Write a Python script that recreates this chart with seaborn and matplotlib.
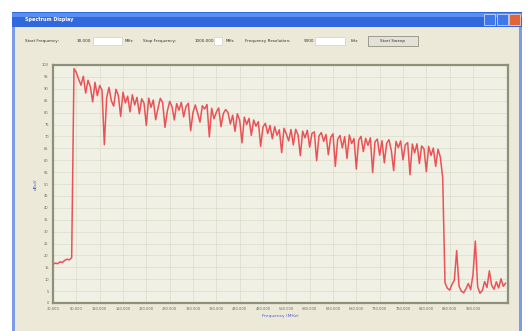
import numpy as np
import pandas as pd
import matplotlib
matplotlib.use("Agg")
import matplotlib.pyplot as plt
from matplotlib.patches import Rectangle
import seaborn as sns

# sweep settings shown in the toolbar
start_text = "30.000"
stop_text = "1000.000"
step_text = "5000"

# frequency points of the sweep (MHz)
freq_mhz = [
    30, 35, 40, 45, 50, 55, 60, 65, 70, 75, 80, 85, 90, 95, 100, 105, 110, 115, 120, 125,
    130, 135, 140, 145, 150, 155, 160, 165, 170, 175, 180, 185, 190, 195, 200, 205, 210, 215, 220, 225,
    230, 235, 240, 245, 250, 255, 260, 265, 270, 275, 280, 285, 290, 295, 300, 305, 310, 315, 320, 325,
    330, 335, 340, 345, 350, 355, 360, 365, 370, 375, 380, 385, 390, 395, 400, 405, 410, 415, 420, 425,
    430, 435, 440, 445, 450, 455, 460, 465, 470, 475, 480, 485, 490, 495, 500, 505, 510, 515, 520, 525,
    530, 535, 540, 545, 550, 555, 560, 565, 570, 575, 580, 585, 590, 595, 600, 605, 610, 615, 620, 625,
    630, 635, 640, 645, 650, 655, 660, 665, 670, 675, 680, 685, 690, 695, 700, 705, 710, 715, 720, 725,
    730, 735, 740, 745, 750, 755, 760, 765, 770, 775, 780, 785, 790, 795, 800, 805, 810, 815, 820, 825,
    830, 835, 840, 845, 850, 855, 860, 865, 870, 875, 880, 885, 890, 895, 900, 905, 910, 915, 920, 925,
    930, 935, 940, 945, 950, 955, 960, 965, 970, 975, 980, 985, 990, 995, 1000,
]

level_dbuv = [
    16.2, 16.8, 16.5, 17.3, 17.0, 17.9, 18.4, 18.1, 19.0,
    98.5,
    96.8, 94.0, 91.5, 95.3, 88.2, 93.6, 90.9, 84.5, 92.7, 87.1, 91.4,
    89.5, 66.5, 86.3, 90.6, 85.0, 82.7, 89.8, 87.2, 78.4, 88.6, 84.1, 86.9, 80.3, 87.5,
    83.2, 86.4, 79.5, 85.8, 84.0, 74.6, 86.1, 82.2, 85.3, 77.0,
    81.9, 86.0, 84.2, 73.8, 80.6, 84.7, 82.5, 76.9, 83.8, 81.0,
    84.3, 78.2, 82.6, 83.9, 72.4, 80.1, 83.2, 79.7, 76.0, 82.9,
    81.5, 83.4, 69.8, 81.8, 77.4, 80.2, 82.0, 74.1, 79.6, 81.3,
    80.0, 75.2, 78.9, 72.1, 79.5, 76.8, 67.3, 78.1, 75.0, 77.6,
    70.4, 76.9, 74.3, 76.2, 65.8, 73.9, 75.5, 71.2, 74.6, 69.0,
    74.1, 70.5, 72.8, 63.2, 73.4, 71.0, 68.1, 72.9, 66.4, 73.0,
    70.7, 61.9, 72.2, 69.4, 72.6, 65.5, 71.3, 71.9, 59.8, 70.2,
    71.6, 67.9, 70.8, 62.3, 69.5, 71.1, 57.4, 68.8, 70.4, 65.2,
    69.9, 60.7, 70.6, 67.0, 69.1, 56.3, 68.4, 70.0, 63.6, 69.2,
    66.2, 69.4, 54.8, 67.7, 68.9, 62.1, 68.2, 58.9, 67.1, 68.6,
    64.0, 55.6, 67.9, 65.3, 68.1, 60.2, 66.5, 67.4, 53.9, 66.8,
    63.1, 66.9, 58.6, 66.0, 64.7, 55.2, 65.8, 62.0, 65.1, 57.4, 64.6, 61.3, 52.8,
    8.5, 6.2, 5.4, 7.8, 9.6, 22.0, 7.1, 5.0, 4.3, 6.0, 8.2, 5.6, 12.0, 26.0,
    6.8, 4.1, 5.3, 9.0, 6.5, 13.5, 7.4, 5.8, 8.9, 6.3, 10.2, 7.0, 8.4,
]

xtick_vals = [30, 80, 130, 180, 230, 280, 330, 380, 430, 480, 530, 580,
              630, 680, 730, 780, 830, 880, 930]
ytick_vals = list(range(0, 101, 5))

df = pd.DataFrame({"freq": freq_mhz, "level": level_dbuv})

sns.set_style("white")
plt.rcParams["font.family"] = ["DejaVu Sans"]

W, H = 532, 331
fig = plt.figure(figsize=(W / 100, H / 100), dpi=100)
fig.patch.set_facecolor("white")


def box(x, y, w, h, **kw):
    # rectangle in pixel coords, y from the top
    fig.patches.append(Rectangle((x / W, 1 - (y + h) / H), w / W, h / H,
                                 transform=fig.transFigure, zorder=0, **kw))


def txt(x, y, s, **kw):
    fig.text(x / W, 1 - y / H, s, **kw)


# window frame
box(12, 12, 510, 322, facecolor="#7e9be6", edgecolor="none")
box(15, 27, 504, 306, facecolor="#ece9d8", edgecolor="none")
# title bar
box(12, 12, 510, 15, facecolor="#3068de", edgecolor="none")
box(12, 13, 510, 4, facecolor="#5a8ef0", edgecolor="none")
txt(25, 20, "Spectrum Display", fontsize=3.5, color="white",
    fontweight="bold", va="center")
box(484, 14, 11, 11, facecolor="#3f78e8", edgecolor="#c8d6f6", linewidth=0.6)
box(497, 14, 11, 11, facecolor="#3f78e8", edgecolor="#c8d6f6", linewidth=0.6)
box(509, 14, 11, 11, facecolor="#e0643c", edgecolor="#f3c8b8", linewidth=0.6)

# toolbar row
tb_y = 41
txt(25, tb_y, "Start Frequency:", fontsize=3, color="#333333", va="center")
txt(77, tb_y, start_text, fontsize=3, color="#333333", va="center")
box(93, 37, 29, 8, facecolor="white", edgecolor="#c8c8c0", linewidth=0.4)
txt(125, tb_y, "MHz", fontsize=3, color="#333333", va="center")
txt(143, tb_y, "Stop Frequency:", fontsize=3, color="#333333", va="center")
txt(195, tb_y, stop_text, fontsize=3, color="#333333", va="center")
box(214, 37, 8, 8, facecolor="white", edgecolor="#c8c8c0", linewidth=0.4)
txt(226, tb_y, "MHz", fontsize=3, color="#333333", va="center")
txt(245, tb_y, "Frequency Resolution:", fontsize=3, color="#333333", va="center")
txt(304, tb_y, step_text, fontsize=3, color="#333333", va="center")
box(315, 37, 30, 8, facecolor="white", edgecolor="#c8c8c0", linewidth=0.4)
txt(351, tb_y, "kHz", fontsize=3, color="#333333", va="center")
box(368, 36, 50, 10, facecolor="#e4e2d6", edgecolor="#8f8f88", linewidth=0.6)
txt(393, tb_y, "Start Sweep", fontsize=3, color="#333333", va="center", ha="center")

# plot area
ax_l, ax_r, ax_t, ax_b = 53, 508, 65, 303
ax = fig.add_axes([ax_l / W, 1 - ax_b / H, (ax_r - ax_l) / W, (ax_b - ax_t) / H])
ax.set_zorder(5)
ax.set_facecolor("#f1f0e4")

sns.lineplot(data=df, x="freq", y="level", ax=ax, color="#e8383f",
             linewidth=1.1, alpha=0.85, estimator=None, sort=False)

ax.set_xlim(30, 1005)
ax.set_ylim(0, 100)
ax.set_xticks(xtick_vals)
ax.set_xticklabels([f"{v:.3f}" for v in xtick_vals])
ax.set_yticks(ytick_vals)
ax.set_yticklabels([str(v) for v in ytick_vals])
ax.tick_params(axis="both", labelsize=2.6, colors="#6a6a60", length=0, pad=3)
ax.grid(True, color="#dcdccc", linewidth=0.5)
ax.set_axisbelow(True)
for sp in ax.spines.values():
    sp.set_color("#8c917c")
    sp.set_linewidth(1.6)

ax.set_xlabel("Frequency (MHz)", fontsize=3.2, color="#4b5ed0", labelpad=2)
ax.set_ylabel("dBuV", fontsize=3.2, color="#4b5ed0", labelpad=3)

fig.savefig("out.png", dpi=100)
